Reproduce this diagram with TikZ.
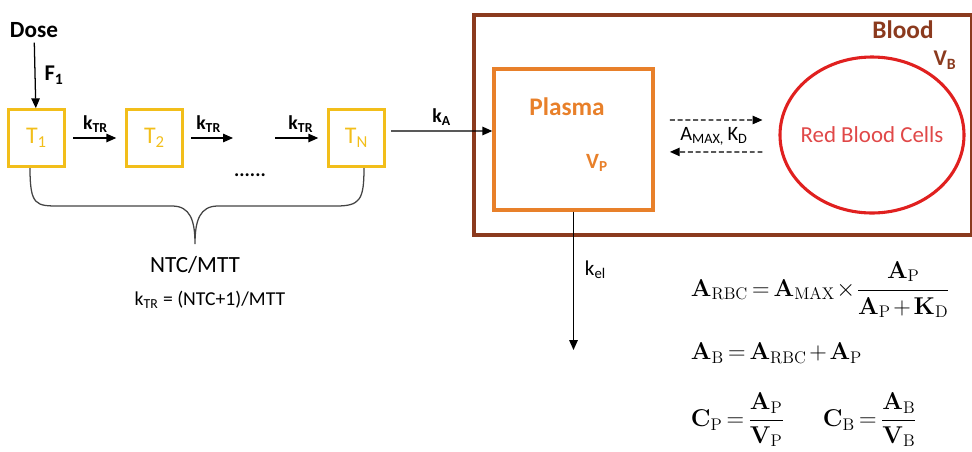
\documentclass[tikz,border=0pt]{standalone}
\usepackage[no-math]{fontspec}
\setmainfont{Carlito}
\usepackage{amsmath}
\usetikzlibrary{arrows.meta, positioning, shapes.geometric, calc}
\definecolor{tryellow}{HTML}{F2BE1A}
\definecolor{plorange}{HTML}{E8802A}
\definecolor{blbrown}{HTML}{8B3A1E}
\definecolor{rbcred}{HTML}{E0201F}
\definecolor{rbctext}{HTML}{E04848}
\definecolor{bracegray}{HTML}{444444}
\newcommand{\tightmath}{\thickmuskip=3mu\relax\medmuskip=2mu\relax}

\begin{document}
\begin{tikzpicture}[
  every node/.style={font=\fontsize{14}{16}\selectfont},
  transit/.style={rectangle, draw=tryellow, line width=2pt, minimum width=1.42cm, minimum height=1.42cm, text=tryellow, font=\fontsize{17}{19}\selectfont},
  flow/.style={-{Triangle[length=7pt,width=6pt]}, line width=0.9pt},
  exch/.style={flow, dash pattern=on 3.5pt off 2pt},
  rate/.style={font=\fontsize{14}{16}\selectfont\bfseries},
  eqn/.style={anchor=west, font=\fontsize{17}{20}\selectfont},
]
\useasboundingbox (0,0) rectangle (24.3,-11.275);

% transit chain
\node[font=\fontsize{16.5}{18}\selectfont\bfseries] (dose) at (0.85,-0.75) {Dose};
\node[transit] (t1) at (0.9125,-3.45) {T\textsubscript{1}};
\node[transit] (t2) at (3.8625,-3.45) {T\textsubscript{2}};
\node[transit] (tn) at (8.9125,-3.45) {T\textsubscript{N}};
\coordinate (dotsl) at (5.825,-3.45);
\coordinate (dotsr) at (6.875,-3.45);
\node[font=\fontsize{14}{16}\selectfont\bfseries] (dots) at (6.25,-4.38) {......};

\draw[flow] (dose) -- (t1) node[midway, right=3pt, font=\fontsize{16}{18}\selectfont\bfseries] {F\textsubscript{1}};
\draw[flow, shorten <=5pt, shorten >=6pt] (t1) -- (t2) node[midway, above, rate] {k\textsubscript{TR}};
\draw[flow, shorten <=5pt] (t2) -- (dotsl) node[midway, above, rate] {k\textsubscript{TR}};
\draw[flow, shorten >=6pt] (dotsr) -- (tn) node[midway, above, rate] {k\textsubscript{TR}};

% brace
\draw[bracegray, line width=0.9pt] (0.75,-4.2) .. controls (0.75,-5.15) and (0.9,-5.15) .. (1.5,-5.15) -- (4.3,-5.15)
  .. controls (4.75,-5.15) and (4.875,-5.5) .. (4.875,-6.1)
  .. controls (4.875,-5.5) and (5.0,-5.15) .. (5.45,-5.15) -- (8.4,-5.15)
  .. controls (9.0,-5.15) and (9.1,-5.0) .. (9.1,-4.2);
\node[font=\fontsize{16.5}{18}\selectfont] (ntc) at (4.875,-6.625) {NTC/MTT};
\node (ktr) at (5.25,-7.5) {k\textsubscript{TR} = (NTC+1)/MTT};

% blood compartment
\node[draw=blbrown, line width=2.8pt, minimum width=12.45cm, minimum height=5.5cm, anchor=north west] (blood) at (11.8,-0.325) {};
\node[font=\fontsize{18}{20}\selectfont\bfseries, text=blbrown] (bloodlbl) at (22.575,-0.75) {Blood};
\node[font=\fontsize{16}{19}\selectfont\bfseries, text=blbrown] (vb) at (23.625,-1.5) {V\textsubscript{B}};

\node[draw=plorange, line width=2.4pt, minimum width=3.975cm, minimum height=3.525cm] (plasma) at (14.3375,-3.4875) {};
\node[font=\fontsize{18}{20}\selectfont\bfseries, text=plorange] (plasmalbl) at (14.175,-2.675) {Plasma};
\node[font=\fontsize{15.5}{18}\selectfont\bfseries, text=plorange] (vp) at (14.925,-4.075) {V\textsubscript{P}};

\node[ellipse, draw=rbcred, line width=2.2pt, minimum width=4.6cm, minimum height=3.9cm, inner sep=0pt] (rbc) at (21.8,-3.375) {};
\node[text=rbctext, font=\fontsize{16.3}{19}\selectfont] (rbclbl) at (rbc) {Red Blood Cells};

\draw[flow] ([shift={(0.12,0.175)}]tn.east) -- ([yshift=0.2125cm]plasma.west) node[midway, above, rate] {k\textsubscript{A}};
\draw[exch] ($(plasma.east)+(0.38,0.49)$) -- ($(rbc.west)+(-0.4,0.375)$);
\draw[exch] ($(rbc.west)+(-0.4,-0.425)$) -- ($(plasma.east)+(0.38,-0.31)$);
\node[font=\fontsize{14.5}{16}\selectfont] (amax) at (17.85,-3.4) {A\textsubscript{MAX,}\,K\textsubscript{D}};

\coordinate (elim) at (plasma.south |- 0,-8.75);
\draw[flow] (plasma.south) -- (elim);
\node[anchor=west, font=\fontsize{15}{17}\selectfont] (kel) at (14.5,-6.75) {k\textsubscript{el}};

% equations
\node[eqn] (eqrbc) at (17.15,-7.25) {$\tightmath\mathbf{A}_{\mathrm{RBC}} = \mathbf{A}_{\mathrm{MAX}}\mkern1mu{\times}\mkern1mu\dfrac{\mathbf{A}_{\mathrm{P}}\vphantom{\big|}}{\mathbf{A}_{\mathrm{P}} + \mathbf{K}_{\mathrm{D}}\vphantom{\big|}}$};
\node[eqn] (eqb) at (17.15,-8.825) {$\tightmath\mathbf{A}_{\mathrm{B}} = \mathbf{A}_{\mathrm{RBC}} + \mathbf{A}_{\mathrm{P}}$};
\node[eqn] (eqcp) at (17.15,-10.5) {$\tightmath\mathbf{C}_{\mathrm{P}} = \dfrac{\mathbf{A}_{\mathrm{P}}}{\mathbf{V}_{\mathrm{P}}}$};
\node[eqn] (eqcb) at (20.45,-10.5) {$\tightmath\mathbf{C}_{\mathrm{B}} = \dfrac{\mathbf{A}_{\mathrm{B}}}{\mathbf{V}_{\mathrm{B}}}$};
\end{tikzpicture}
\end{document}
